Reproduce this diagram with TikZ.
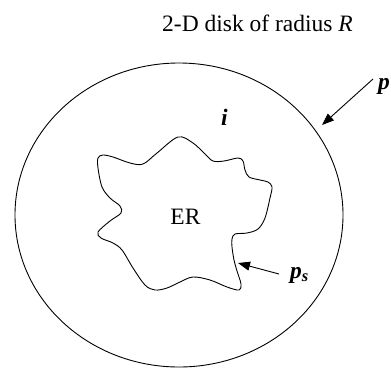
\documentclass[tikz,border=0pt]{standalone}
\usepackage{fontspec}
\setmainfont{Liberation Serif}
\usetikzlibrary{arrows.meta}
\begin{document}
\begin{tikzpicture}[x=1pt,y=-1pt,
  outline/.style={line width=0.9pt},
  pointer/.style={line width=0.9pt,-{Triangle[length=12pt,width=9pt]}},
  lbl/.style={inner sep=0pt,anchor=base west,font=\fontsize{23.5}{28}\selectfont}]
\useasboundingbox (0,0) rectangle (391,368);
% disk
\draw[outline] (179,215) ellipse [x radius=164, y radius=152];
% excluded region
\draw[outline,line join=round] plot[smooth cycle,tension=0.55] coordinates {
 (178,137) (193,143) (205,154) (213,161) (224,161) (238,158) (243,161)
 (245,170) (249,177) (260,180) (268,182) (272,187) (270,198) (265,218)
 (258,229) (247,233) (235,234) (232,239) (232,247) (234,260) (237,271)
 (241,284) (239,290) (227,287) (210,280) (193,277) (180,282) (167,288)
 (155,290) (145,285) (133,268) (122,250) (113,243) (101,238) (98,232)
 (110,221) (121,213) (120,206) (110,198) (102,187) (98,168) (98,158)
 (103,155) (113,157) (130,163) (143,164) (157,153)};
% labels
\node[lbl] (title) at (162,31) {2-D disk of radius \textit{R}};
\node[lbl,anchor=base] (er) at (185.5,224) {ER};
\node[lbl,anchor=base] (ivar) at (224.5,125) {\textbf{\textit{i}}};
\node[lbl] (ps) at (290,278) {\textbf{\textit{p}}\textsubscript{\textbf{\textit{s}}}};
\node[lbl,anchor=base east] (pinf) at (390,89) {\textbf{\textit{p}}};
% arrows
\coordinate (pinfTail) at (373,79);
\coordinate (pinfTip) at (322,125);
\coordinate (psTail) at (279,274);
\coordinate (psTip) at (238,263);
\draw[pointer] (pinfTail) -- (pinfTip);
\draw[pointer] (psTail) -- (psTip);
\end{tikzpicture}
\end{document}
